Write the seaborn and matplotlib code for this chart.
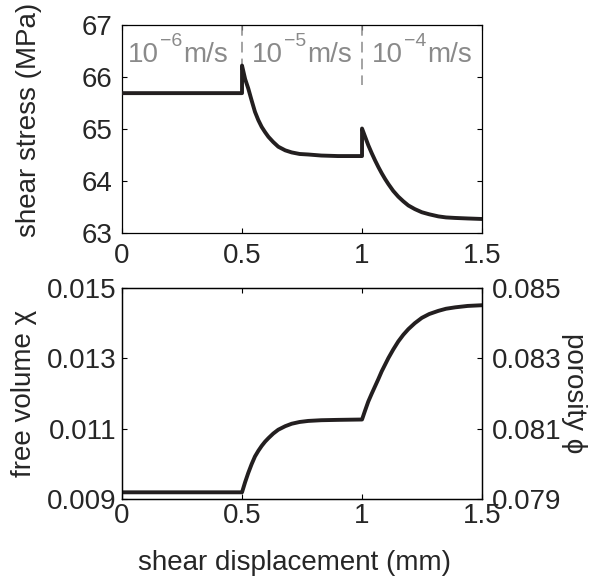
import matplotlib
matplotlib.use("Agg")
import matplotlib.pyplot as plt
import seaborn as sns
import pandas as pd
from matplotlib.ticker import FixedLocator, FuncFormatter

# Shear stress response to velocity steps (mm, MPa)
disp_stress = [0.000, 0.500, 0.500, 0.513, 0.526, 0.540, 0.554, 0.568, 0.582, 0.596,
               0.610, 0.630, 0.651, 0.680, 0.707, 0.740, 0.776, 0.830, 0.900, 1.000,
               1.000, 1.013, 1.026, 1.040, 1.054, 1.068, 1.082, 1.096, 1.110, 1.130,
               1.151, 1.172, 1.193, 1.220, 1.249, 1.280, 1.318, 1.350, 1.388, 1.440,
               1.500]
shear_stress = [65.69, 65.69, 66.22, 65.96, 65.78, 65.55, 65.33, 65.17, 65.04, 64.94,
                64.85, 64.75, 64.66, 64.59, 64.55, 64.52, 64.51, 64.49, 64.48, 64.48,
                65.01, 64.85, 64.69, 64.54, 64.40, 64.27, 64.15, 64.04, 63.94, 63.81,
                63.70, 63.61, 63.53, 63.46, 63.40, 63.36, 63.32, 63.30, 63.29, 63.28,
                63.27]

# Free volume evolution over the same slip history
disp_chi = [0.000, 0.500, 0.513, 0.526, 0.540, 0.554, 0.568, 0.582, 0.596, 0.610,
            0.630, 0.651, 0.680, 0.707, 0.740, 0.776, 0.830, 0.900, 1.000, 1.013,
            1.026, 1.040, 1.054, 1.068, 1.082, 1.096, 1.110, 1.130, 1.151, 1.172,
            1.193, 1.220, 1.249, 1.280, 1.318, 1.350, 1.388, 1.440, 1.500]
free_volume = [0.00919, 0.00919, 0.00948, 0.00974, 0.00999, 0.01021, 0.01037, 0.01051,
               0.01063, 0.01073, 0.01086, 0.01097, 0.01107, 0.01114, 0.01119, 0.01122,
               0.01124, 0.01125, 0.01126, 0.01152, 0.01177, 0.01199, 0.01220, 0.01241,
               0.01263, 0.01282, 0.01301, 0.01325, 0.01348, 0.01367, 0.01383, 0.01400,
               0.01415, 0.01426, 0.01435, 0.01441, 0.01445, 0.01449, 0.01451]

velocity_exponents = ["\u22126", "\u22125", "\u22124"]
velocity_label_x = [0.025, 0.540, 1.040]
step_positions = [0.5, 1.0]

x_ticks = [0, 0.5, 1, 1.5]
stress_ticks = [63, 64, 65, 66, 67]
chi_ticks = [0.009, 0.011, 0.013, 0.015]
phi_ticks = [0.079, 0.081, 0.083, 0.085]
porosity_offset = 0.070  # porosity = free volume + offset

sns.set_style("ticks")
plt.rcParams["font.family"] = ["Liberation Sans", "DejaVu Sans"]

LINE = "#231f20"
GRAY = "#8a8a8a"
FS = 20

fig = plt.figure(figsize=(5.9, 5.83), dpi=100)
ax1 = fig.add_axes([0.2068, 0.6003, 0.6102, 0.3568])
ax2 = fig.add_axes([0.2068, 0.1441, 0.6102, 0.3619])

fmt = FuncFormatter(lambda v, p: f"{v:g}")

# --- top panel: shear stress ---
stress_df = pd.DataFrame({"disp": disp_stress, "stress": shear_stress})
for xs in step_positions:
    ax1.plot([xs, xs], [67, 65.85], color=GRAY, lw=1.1, dashes=(7, 4), zorder=1)
sns.lineplot(data=stress_df, x="disp", y="stress", ax=ax1, sort=False, estimator=None,
             color=LINE, linewidth=2.8, zorder=3)

# velocity labels: base, raised exponent, unit
for expo, xv in zip(velocity_exponents, velocity_label_x):
    base = ax1.text(xv, 66.28, "10", color=GRAY, fontsize=FS, ha="left", va="baseline")
    sup = ax1.annotate(expo, xy=(1, 0), xycoords=base, xytext=(1, 16.5),
                       textcoords="offset points", color=GRAY, fontsize=14,
                       ha="left", va="baseline")
    ax1.annotate("m/s", xy=(1, 0), xycoords=(sup, base), xytext=(0.5, 0),
                 textcoords="offset points", color=GRAY, fontsize=FS,
                 ha="left", va="bottom")

ax1.set_xlim(0, 1.5)
ax1.set_ylim(63, 67)
ax1.xaxis.set_major_locator(FixedLocator(x_ticks))
ax1.yaxis.set_major_locator(FixedLocator(stress_ticks))
ax1.xaxis.set_major_formatter(fmt)
ax1.set_xlabel("")
ax1.set_ylabel("shear stress (MPa)", fontsize=FS)
ax1.yaxis.set_label_coords(-0.222, 0.543)
ax1.tick_params(axis="both", direction="in", length=3.5, width=0.8, labelsize=FS,
                top=True, right=True, color="black")
ax1.tick_params(axis="y", pad=7.2)
ax1.tick_params(axis="x", pad=7)

# --- bottom panel: free volume and porosity ---
chi_df = pd.DataFrame({"disp": disp_chi, "chi": free_volume})
sns.lineplot(data=chi_df, x="disp", y="chi", ax=ax2, sort=False, estimator=None,
             color=LINE, linewidth=2.8, zorder=3)
ax2.set_xlim(0, 1.5)
ax2.set_ylim(chi_ticks[0], chi_ticks[-1])
ax2.xaxis.set_major_locator(FixedLocator(x_ticks))
ax2.yaxis.set_major_locator(FixedLocator(chi_ticks))
ax2.xaxis.set_major_formatter(fmt)
ax2.yaxis.set_major_formatter(FuncFormatter(lambda v, p: f"{v:.3f}"))
ax2.set_xlabel("shear displacement (mm)", fontsize=FS)
ax2.xaxis.set_label_coords(0.48, -0.240)
ax2.set_ylabel("free volume χ", fontsize=FS)
ax2.yaxis.set_label_coords(-0.236, 0.5)
ax2.tick_params(axis="both", direction="in", length=3.5, width=0.8, labelsize=FS,
                top=True, color="black")
ax2.tick_params(axis="y", pad=4)
ax2.tick_params(axis="x", pad=2.7)

ax3 = ax2.twinx()
ax3.set_ylim(chi_ticks[0] + porosity_offset, chi_ticks[-1] + porosity_offset)
ax3.yaxis.set_major_locator(FixedLocator(phi_ticks))
ax3.yaxis.set_major_formatter(FuncFormatter(lambda v, p: f"{v:.3f}"))
ax3.tick_params(axis="y", direction="in", length=3.5, width=0.8, labelsize=FS, pad=7,
                color="black")
ax3.set_ylabel("porosity ϕ", fontsize=FS, rotation=270, va="bottom")
ax3.yaxis.set_label_coords(1.218, 0.5)

for ax in (ax1, ax2, ax3):
    for s in ax.spines.values():
        s.set_linewidth(0.9)
        s.set_color("black")

fig.savefig("out.png", dpi=100)
